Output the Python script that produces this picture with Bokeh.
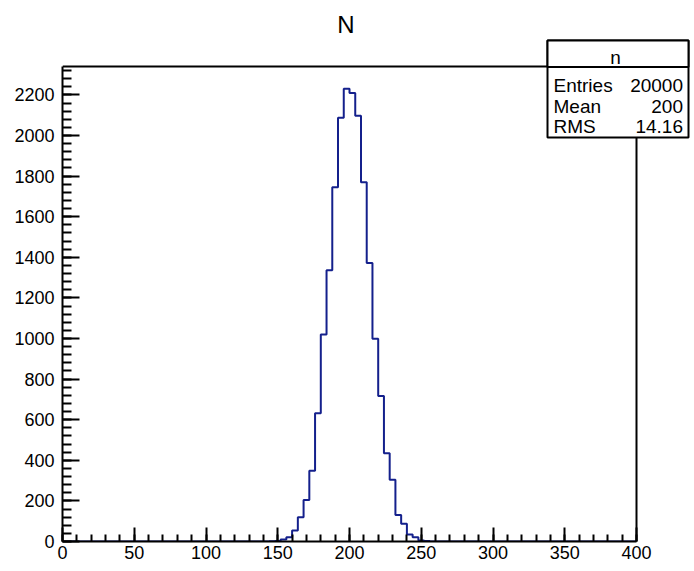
from bokeh.plotting import figure
from bokeh.models import Range1d, SingleIntervalTicker, Label, BoxAnnotation
from bokeh.embed import file_html
from bokeh.resources import INLINE

# ---- data ----
bin_width = 4
bin_left_edges = list(range(0, 400, bin_width))
counts = [0] * 100
observed = {
    144: 1, 148: 3, 152: 10, 156: 21, 160: 54, 164: 119, 168: 205, 172: 349,
    176: 632, 180: 1020, 184: 1336, 188: 1745, 192: 2087, 196: 2231,
    200: 2210, 204: 2097, 208: 1770, 212: 1372, 216: 999, 220: 717,
    224: 435, 228: 304, 232: 131, 236: 87, 240: 34, 244: 21, 248: 5, 252: 2,
}
for edge, c in observed.items():
    counts[edge // bin_width] = c

title_text = "N"
stats_name = "n"
stats_labels = ["Entries", "Mean", "RMS"]
stats_values = ["20000", "200", "14.16"]

# ---- geometry ----
W, H = 694, 571
FX0, FX1 = 62, 636   # histogram frame left/right (px)
FY1, FY0 = 66, 541   # histogram frame top/bottom (px)
XMAX, YMAX = 400, 2340
FONT = "Liberation Sans"


def dx(px):
    return (px - FX0) * XMAX / (FX1 - FX0)


def dy(py):
    return (FY0 - py) * YMAX / (FY0 - FY1)


# Bokeh frame spans from the axes to the canvas top/right edges so that the
# title and the statistics box (which overlap the histogram frame) are drawn.
p = figure(width=W, height=H, output_backend="svg", toolbar_location=None,
           x_range=Range1d(0, dx(W)), y_range=Range1d(0, dy(0)),
           min_border_left=FX0, min_border_right=0,
           min_border_top=0, min_border_bottom=H - FY0)
p.background_fill_color = "white"
p.border_fill_color = "white"
p.outline_line_color = None
p.xgrid.visible = False
p.ygrid.visible = False

# histogram outline
xs = bin_left_edges + [XMAX]
ys = counts + [counts[-1]]
p.step(x=xs, y=ys, mode="after", line_color="#14208c", line_width=2)

# top and right edges of the histogram frame
p.line(x=[0, XMAX, XMAX], y=[YMAX, YMAX, 0], line_color="black", line_width=2)

# axes
p.xaxis.ticker = SingleIntervalTicker(interval=50, num_minor_ticks=5)
p.yaxis.ticker = SingleIntervalTicker(interval=200, num_minor_ticks=5)
p.xaxis.bounds = (0, XMAX)
p.yaxis.bounds = (0, YMAX)
for ax, maj, mino, stand in ((p.xaxis, 14, 7, 4), (p.yaxis, 17, 9, 8)):
    ax.major_tick_in = maj
    ax.major_tick_out = 0
    ax.minor_tick_in = mino
    ax.minor_tick_out = 0
    ax.axis_line_width = 2
    ax.major_tick_line_width = 2
    ax.minor_tick_line_width = 2
    ax.major_label_text_font = FONT
    ax.major_label_text_font_size = "18px"
    ax.major_label_text_color = "black"
    ax.major_label_standoff = stand

# title
p.add_layout(Label(x=dx(345.5), y=dy(23.5), text=title_text, text_font=FONT,
                   text_font_size="24px", text_align="center",
                   text_baseline="middle", text_color="black"))

# stats box
BL, BR, BT, BS, BB = 547, 688, 40, 66.5, 137
for top, bottom in ((BT, BB), (BT, BS)):
    p.add_layout(BoxAnnotation(left=dx(BL), right=dx(BR), top=dy(top),
                               bottom=dy(bottom), fill_color="white",
                               fill_alpha=1.0, line_color="black",
                               line_alpha=1.0, line_width=2, level="overlay"))
p.add_layout(Label(x=dx(615), y=dy(56.5), text=stats_name, text_font=FONT,
                   text_font_size="19px", text_align="center",
                   text_baseline="alphabetic", text_color="black",
                   level="overlay"))
for lab, val, base in zip(stats_labels, stats_values, [85, 105.5, 126]):
    p.add_layout(Label(x=dx(553), y=dy(base), text=lab, text_font=FONT,
                       text_font_size="19px", text_align="left",
                       text_baseline="alphabetic", text_color="black",
                       level="overlay"))
    p.add_layout(Label(x=dx(682.5), y=dy(base), text=val, text_font=FONT,
                       text_font_size="19px", text_align="right",
                       text_baseline="alphabetic", text_color="black",
                       level="overlay"))

open("out.html", "w").write(file_html(p, INLINE))
